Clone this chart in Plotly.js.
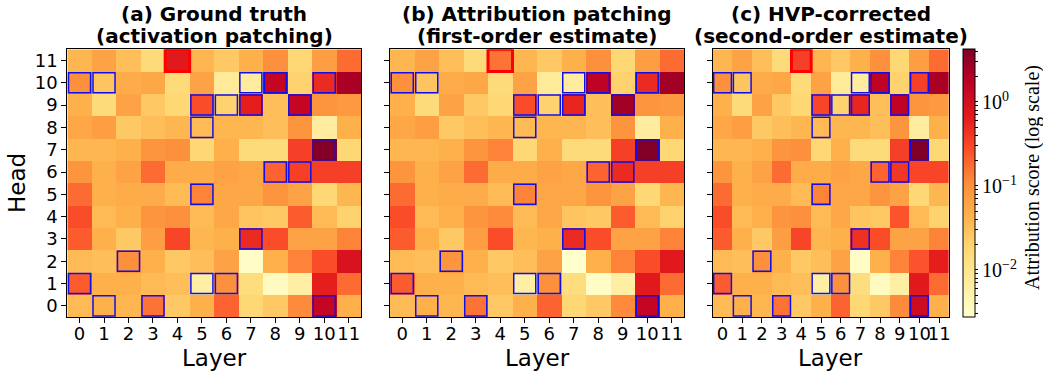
<!DOCTYPE html>
<html>
<head>
<meta charset="utf-8">
<script src="https://cdn.plot.ly/plotly-3.0.1.min.js"></script>
<style>html,body{margin:0;padding:0;background:#fff;}#chart{width:1043px;height:372px;}</style>
</head>
<body>
<div id="chart"></div>
<script>
// ---- data (log10 of attribution score), rows listed from head 11 down to head 0 ----
const layers = [0,1,2,3,4,5,6,7,8,9,10,11];
const heads  = [11,10,9,8,7,6,5,4,3,2,1,0];
const panelTitles = [
  ["(a) Ground truth", "(activation patching)"],
  ["(b) Attribution patching", "(first-order estimate)"],
  ["(c) HVP-corrected", "(second-order estimate)"]
];
const groundTruthLog = [
  [-1.4,-1.2,-1.5,-1.8,-0.15,-1.4,-1.6,-1.35,-1.0,-1.75,-1.15,-0.75],
  [-1.0,-1.55,-1.3,-1.25,-1.8,-1.2,-2.1,-2.15,0.15,-1.7,-0.3,0.35],
  [-1.35,-1.8,-1.2,-1.6,-1.75,-0.55,-1.7,-0.2,-1.5,0.15,-1.05,-1.1],
  [-1.25,-1.15,-1.6,-1.5,-1.4,-1.45,-1.4,-1.4,-1.5,-1.05,-2.15,-1.35],
  [-1.4,-1.4,-1.35,-1.05,-1.0,-1.75,-1.35,-1.8,-1.8,-0.45,0.6,-1.75],
  [-1.05,-1.35,-1.2,-0.75,-1.3,-1.3,-1.2,-1.25,-0.7,-0.45,-0.45,-0.45],
  [-0.75,-1.35,-1.3,-1.3,-1.45,-0.9,-1.25,-1.25,-1.05,-1.2,-1.75,-1.4],
  [-0.55,-1.45,-1.35,-1.05,-1.0,-1.45,-1.25,-1.55,-1.6,-0.65,-1.45,-1.7],
  [-0.65,-1.35,-1.6,-1.15,-0.5,-1.4,-1.35,-0.3,-0.55,-1.2,-1.2,-0.9],
  [-1.45,-1.5,-1.0,-1.35,-1.6,-1.5,-1.2,-2.5,-1.35,-0.9,-0.55,-0.05],
  [-0.65,-1.35,-1.35,-1.45,-1.5,-2.2,-1.0,-1.85,-2.45,-2.2,-0.2,-0.75],
  [-1.45,-1.35,-1.4,-0.8,-1.6,-1.35,-0.7,-1.75,-1.6,-0.95,0.15,-1.35]
];
const attributionLog = [
  [-1.4,-1.2,-1.5,-1.8,-0.8,-1.4,-1.6,-1.35,-1.0,-1.75,-1.15,-0.75],
  [-1.0,-1.55,-1.3,-1.25,-1.8,-1.2,-2.1,-2.15,0.2,-1.7,-0.3,0.4],
  [-1.35,-1.8,-1.2,-1.6,-1.75,-0.55,-1.7,-0.25,-1.5,0.4,-1.05,-1.1],
  [-1.25,-1.15,-1.6,-1.5,-1.4,-1.45,-1.4,-1.4,-1.5,-1.05,-2.15,-1.35],
  [-1.4,-1.4,-1.35,-1.05,-0.9,-1.75,-1.35,-1.8,-1.8,-0.45,0.62,-1.75],
  [-1.05,-1.35,-1.2,-0.75,-1.3,-1.3,-1.2,-1.25,-0.7,-0.3,-0.45,-0.45],
  [-0.75,-1.35,-1.3,-1.3,-1.45,-0.9,-1.25,-1.25,-1.05,-1.2,-1.75,-1.4],
  [-0.55,-1.45,-1.35,-1.05,-0.95,-1.45,-1.25,-1.55,-1.6,-0.65,-1.45,-1.7],
  [-0.65,-1.35,-1.6,-1.15,-0.55,-1.4,-1.35,-0.3,-0.55,-1.2,-1.2,-0.9],
  [-1.45,-1.5,-1.05,-1.35,-1.6,-1.5,-1.2,-2.55,-1.35,-0.9,-0.55,-0.15],
  [-0.65,-1.35,-1.35,-1.45,-1.5,-2.2,-1.0,-1.85,-2.5,-2.2,-0.15,-0.75],
  [-1.45,-1.35,-1.4,-0.8,-1.6,-1.35,-0.7,-1.75,-1.6,-0.95,0.15,-1.35]
];
const hvpLog = [
  [-1.4,-1.2,-1.5,-1.8,-0.45,-1.4,-1.6,-1.35,-1.0,-1.75,-1.15,-0.75],
  [-1.0,-1.55,-1.3,-1.25,-1.8,-1.2,-2.1,-2.15,0.2,-1.7,-0.45,0.35],
  [-1.35,-1.8,-1.2,-1.6,-1.75,-0.5,-1.7,-0.25,-1.5,0.2,-1.05,-1.1],
  [-1.25,-1.15,-1.6,-1.5,-1.4,-1.45,-1.4,-1.4,-1.5,-1.05,-2.15,-1.35],
  [-1.4,-1.4,-1.35,-1.05,-1.0,-1.75,-1.35,-1.8,-1.8,-0.45,0.63,-1.75],
  [-1.05,-1.35,-1.2,-0.75,-1.3,-1.3,-1.2,-1.25,-0.7,-0.4,-0.5,-0.5],
  [-0.75,-1.35,-1.3,-1.3,-1.45,-0.9,-1.25,-1.25,-1.05,-1.2,-1.75,-1.4],
  [-0.55,-1.45,-1.35,-1.05,-1.0,-1.45,-1.25,-1.55,-1.6,-0.6,-1.45,-1.7],
  [-0.65,-1.35,-1.6,-1.15,-0.5,-1.4,-1.35,-0.35,-0.55,-1.2,-1.2,-0.9],
  [-1.45,-1.5,-1.0,-1.35,-1.6,-1.5,-1.2,-2.5,-1.35,-0.9,-0.6,-0.2],
  [-0.65,-1.35,-1.35,-1.45,-1.5,-2.2,-1.0,-1.85,-2.45,-2.2,-0.15,-0.75],
  [-1.45,-1.35,-1.4,-0.8,-1.6,-1.35,-0.7,-1.75,-1.6,-0.95,0.05,-1.35]
];
// highlighted (layer, head) cells
const boxLayers = [0,1,7,8,10,5,6,7,9,5,10,8,9,5,7,2,0,5,6,1,3,10];
const boxHeads  = [10,10,10,10,10,9,9,9,9,8,7,6,6,5,3,2,1,1,1,0,0,0];
const redBoxLayer = 4, redBoxHead = 11;
const logMin = -2.56, logMax = 0.63;
const cbMajor = [-2,-1,0];
const cbMajorText = ["10<sup>−2</sup>","10<sup>−1</sup>","10<sup>0</sup>"];

// ---- rendering ----
const W = 1043, H = 372;
const ylorrd = [
  [0,'#ffffcc'],[0.125,'#ffeda0'],[0.25,'#fed976'],[0.375,'#feb24c'],
  [0.5,'#fd8d3c'],[0.625,'#fc4e2a'],[0.75,'#e31a1c'],[0.875,'#bd0026'],[1,'#800026']
];
const xPix = [[67.3,361],[390,684],[712.7,949]];
const yTop = 49.3, yBot = 317;
const yDom = [(H-yBot)/H, (H-yTop)/H];

// colorbar ticks (major labelled, minor unlabelled)
const cbVals = [], cbText = [];
for (let e=-3; e<=0; e++) for (let k=1;k<=9;k++){
  const v = Math.log10(k*Math.pow(10,e));
  if (v>=logMin && v<=logMax){ cbVals.push(v); const i=cbMajor.indexOf(e); cbText.push(k===1 && i>=0 ? cbMajorText[i] : ''); }
}

const zs = [groundTruthLog, attributionLog, hvpLog];
const traces = zs.map((z,i)=>({
  type:'heatmap', x:layers, y:heads, z:z,
  xaxis: i===0?'x':'x'+(i+1), yaxis: i===0?'y':'y'+(i+1),
  colorscale: ylorrd, zmin: logMin, zmax: logMax,
  showscale: i===2, hoverinfo:'skip',
  colorbar: {
    x: 963/W, xanchor:'left', xpad:0, ypad:0,
    y: yDom[0], yanchor:'bottom', len: yDom[1]-yDom[0], lenmode:'fraction',
    thickness: 12, thicknessmode:'pixels',
    outlinewidth: 1, outlinecolor:'#000',
    tickmode:'array', tickvals: cbVals, ticktext: cbText,
    ticks:'outside', ticklen:3, tickwidth:1, tickcolor:'#000',
    tickfont:{family:'Liberation Serif', size:20, color:'#000'}
  }
}));

const layout = {
  width:W, height:H, margin:{l:0,r:0,t:0,b:0},
  paper_bgcolor:'#fff', plot_bgcolor:'#fff', showlegend:false,
  shapes:[], annotations:[]
};
const tickFont = {family:'DejaVu Sans', size:18, color:'#000'};
for (let i=0;i<3;i++){
  const xs = i===0?'':(i+1);
  layout['xaxis'+xs] = {
    domain:[xPix[i][0]/W, xPix[i][1]/W], range:[-0.5,11.5], anchor:'y'+xs,
    tickmode:'array', tickvals:layers, ticktext:layers.map(String), tickangle:0,
    ticks:'outside', ticklen:5, tickwidth:1, tickcolor:'#000', ticklabelstandoff:-5,
    showline:true, mirror:true, linecolor:'#000', linewidth:1,
    showgrid:false, zeroline:false, tickfont:tickFont, fixedrange:true
  };
  layout['yaxis'+xs] = {
    domain:yDom, range:[-0.5,11.5], anchor:'x'+xs,
    tickmode:'array', tickvals:heads, ticktext: heads.map(String),
    showticklabels: i===0,
    ticks:'outside', ticklen:5, tickwidth:1, tickcolor:'#000',
    showline:true, mirror:true, linecolor:'#000', linewidth:1,
    showgrid:false, zeroline:false, tickfont:tickFont, fixedrange:true
  };
  // boxes
  for (let b=0;b<boxLayers.length;b++){
    layout.shapes.push({type:'rect', xref:'x'+xs, yref:'y'+xs,
      x0:boxLayers[b]-0.45, x1:boxLayers[b]+0.45, y0:boxHeads[b]-0.45, y1:boxHeads[b]+0.45,
      line:{color:'rgb(15,15,235)', width:1.5}});
  }
  layout.shapes.push({type:'rect', xref:'x'+xs, yref:'y'+xs,
    x0:redBoxLayer-0.5, x1:redBoxLayer+0.5, y0:redBoxHead-0.5, y1:redBoxHead+0.5,
    line:{color:'#ff0000', width:3}});
  const cx = (xPix[i][0]+xPix[i][1])/2/W;
  layout.annotations.push({xref:'paper', yref:'paper', x:cx, y:1-14/H, yanchor:'middle', xanchor:'center',
    text:'<b>'+panelTitles[i][0]+'</b>', showarrow:false, font:{family:'DejaVu Sans', size:20, color:'#000'}});
  layout.annotations.push({xref:'paper', yref:'paper', x:cx, y:1-36/H, yanchor:'middle', xanchor:'center',
    text:'<b>'+panelTitles[i][1]+'</b>', showarrow:false, font:{family:'DejaVu Sans', size:20, color:'#000'}});
  layout.annotations.push({xref:'paper', yref:'paper', x:cx, y:1-358/H, yanchor:'middle', xanchor:'center',
    text:'Layer', showarrow:false, font:{family:'DejaVu Sans', size:23, color:'#000'}});
}
layout.annotations.push({xref:'paper', yref:'paper', x:17/W, y:1-183/H, xanchor:'center', yanchor:'middle',
  text:'Head', textangle:-90, showarrow:false, font:{family:'DejaVu Sans', size:23, color:'#000'}});
layout.annotations.push({xref:'paper', yref:'paper', x:1032/W, y:1-178/H, xanchor:'center', yanchor:'middle',
  text:'Attribution score (log scale)', textangle:-90, showarrow:false, font:{family:'Liberation Serif', size:20, color:'#000'}});

Plotly.newPlot('chart', traces, layout, {displayModeBar:false, staticPlot:true});
</script>
</body>
</html>
